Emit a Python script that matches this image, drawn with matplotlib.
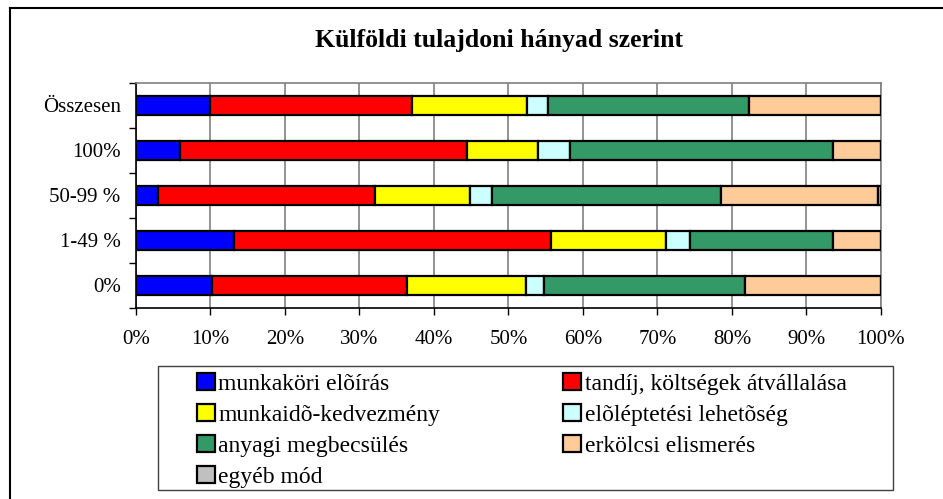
import matplotlib.pyplot as plt
from matplotlib.lines import Line2D
from matplotlib.patches import Rectangle
import numpy as np

plt.rcParams['font.family'] = ['Liberation Serif', 'DejaVu Serif']

# categories from bottom to top
kategoriak = ['0%', '1-49 %', '50-99 %', '100%', 'Összesen']

munkakori = [10.2, 13.2, 2.9, 5.9, 10.0]
tandij = [26.2, 42.5, 29.2, 38.5, 27.1]
munkaido = [15.9, 15.5, 12.7, 9.5, 15.4]
eloleptetes = [2.5, 3.2, 3.0, 4.4, 2.8]
anyagi = [27.0, 19.1, 30.7, 35.2, 27.0]
erkolcsi = [18.2, 6.5, 21.1, 6.5, 17.7]
egyeb = [0.0, 0.0, 0.4, 0.0, 0.0]

nevek = ['munkaköri elõírás', 'tandíj, költségek átvállalása',
         'munkaidõ-kedvezmény', 'elõléptetési lehetõség',
         'anyagi megbecsülés', 'erkölcsi elismerés', 'egyéb mód']
szinek = ['#0000FF', '#FF0000', '#FFFF00', '#CCFFFF',
          '#339966', '#FFCC99', '#C0C0C0']
sorok = [munkakori, tandij, munkaido, eloleptetes, anyagi, erkolcsi, egyeb]

fig = plt.figure(figsize=(9.43, 4.99), dpi=100)
ax = fig.add_axes([0.1442, 0.3828, 0.790, 0.4509])

y = np.arange(len(kategoriak))
bal = np.zeros(len(kategoriak))
handles = []
for ertek, nev, szin in zip(sorok, nevek, szinek):
    b = ax.barh(y, ertek, left=bal, height=0.42, color=szin,
                edgecolor='black', linewidth=1.6, label=nev, zorder=3)
    handles.append(b)
    bal += np.array(ertek)

ax.set_xlim(0, 100)
ax.set_ylim(-0.5, len(kategoriak) - 0.5)
ax.set_xticks(np.arange(0, 101, 10))
ax.set_xticklabels([f'{v}%' for v in range(0, 101, 10)], fontsize=15)
ax.grid(axis='x', color='#808080', linewidth=1.2, zorder=0)

ax.set_yticks(np.arange(-0.5, len(kategoriak), 1))
ax.set_yticklabels([])
ax.set_yticks(y, minor=True)
ax.set_yticklabels(kategoriak, minor=True, fontsize=15)
ax.tick_params(axis='y', which='major', length=5, width=1, direction='out')
ax.tick_params(axis='y', which='minor', length=0, pad=11)
ax.tick_params(axis='x', length=5, width=1, pad=11)

for s in ['top', 'right']:
    ax.spines[s].set_color('#808080')
    ax.spines[s].set_linewidth(1.2)
for s in ['left', 'bottom']:
    ax.spines[s].set_color('black')
    ax.spines[s].set_linewidth(1.2)

fig.text(0.5287, 0.918, 'Külföldi tulajdoni hányad szerint', ha='center',
         va='center', fontsize=18.5, fontweight='bold')

# legend frame
fig.add_artist(Rectangle((158 / 943, 1 - 490 / 499), 735 / 943, 124 / 499,
                         transform=fig.transFigure, facecolor='white',
                         edgecolor='#404040', linewidth=1.0))

# legend filled row by row
sorrend = [0, 2, 4, 6, 1, 3, 5]
leg = fig.legend([handles[i] for i in sorrend], [nevek[i] for i in sorrend],
                 ncol=2, loc='upper left', bbox_to_anchor=(197 / 943, 1 - 373 / 499),
                 fontsize=17, frameon=False,
                 handlelength=0.76, handleheight=0.72,
                 handletextpad=0.15, labelspacing=0.40, columnspacing=5.2,
                 borderpad=0, borderaxespad=0)
for h in leg.legend_handles:
    h.set_linewidth(1.6)

# outer frame of the chart
fig.add_artist(Line2D([0.0106, 1.0], [0.984, 0.984], color='black',
                      linewidth=1.5, transform=fig.transFigure))
fig.add_artist(Line2D([0.0106, 0.0106], [0.0, 0.984], color='black',
                      linewidth=1.5, transform=fig.transFigure))

fig.savefig('out.png', dpi=100)
